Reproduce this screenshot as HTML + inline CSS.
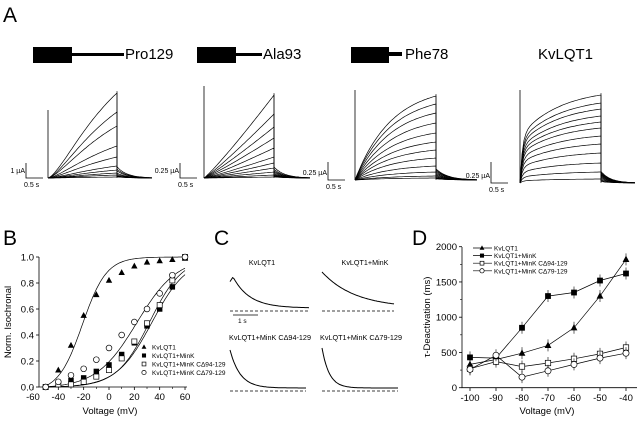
<!DOCTYPE html>
<html><head><meta charset="utf-8"><style>
body{margin:0;background:#fff;}
svg{display:block;font-family:"Liberation Sans",Arial,sans-serif;}
</style></head><body>
<svg id="fig" width="640" height="422" viewBox="0 0 640 422" xmlns="http://www.w3.org/2000/svg">
<g id="A">
<text x="3" y="22" font-size="21">A</text>
<rect x="33" y="47" width="39" height="16" fill="#000"/>
<rect x="72" y="53" width="52" height="3" fill="#000"/>
<text x="125" y="59" font-size="15">Pro129</text>
<rect x="197" y="47" width="39" height="16" fill="#000"/>
<rect x="236" y="53" width="26" height="3" fill="#000"/>
<text x="263" y="59" font-size="15">Ala93</text>
<rect x="351" y="47" width="38" height="16" fill="#000"/>
<rect x="389" y="52" width="13" height="4" fill="#000"/>
<text x="405" y="59" font-size="15">Phe78</text>
<text x="538" y="59" font-size="15">KvLQT1</text>
</g>
<g id="traces"></g>
<g id="B">
<text x="3" y="245" font-size="21">B</text>
</g>
<g id="C">
<text x="214" y="245" font-size="21">C</text>
</g>
<g id="D">
<text x="412" y="245" font-size="21">D</text>
</g>
</svg>
<script>
// ---- Panel A data (relative final current amplitudes, px-equivalents) ----
const proAmps=[85,66,52,32,21,12,8,5,3,1];
const alaAmps=[83,64,51,40,30,21,15,10,6,3,1];
const pheAmps=[84,76,67,57,47,38,30,22,14,8,4,2];
const kvAmps=[88,80,74,67,61,55,47,39,30,20,11,4];
// ---- Panel B data ----
const bVolt=[-50,-40,-30,-20,-10,0,10,20,30,40,50,60];
const bKv=[0.0,0.13,0.32,0.55,0.71,0.82,0.88,0.93,0.96,0.97,0.98,0.99];
const bMink=[0.0,0.03,0.05,0.07,0.12,0.17,0.25,0.34,0.47,0.60,0.77,null];
const bC94=[0.0,0.02,0.02,0.04,0.08,0.13,0.22,0.35,0.49,0.63,0.82,1.0];
const bC79=[0.0,0.04,0.09,0.14,0.21,0.30,0.40,0.50,0.60,0.72,0.86,1.0];
const bXTicks=[-60,-40,-20,0,20,40,60];
const bYTicks=[0.0,0.2,0.4,0.6,0.8,1.0];
// ---- Panel D data ----
const dVolt=[-100,-90,-80,-70,-60,-50,-40];
const dKv=[330,400,490,600,850,1300,1820];
const dMink=[430,420,850,1300,1350,1520,1620];
const dC94=[270,370,300,350,410,480,570];
const dC79=[260,460,150,240,330,420,490];
const dXTicks=[-100,-90,-80,-70,-60,-50,-40];
const dYTicks=[0,500,1000,1500,2000];
// ---- Panel C data (decay taus, s) ----
const cTaus=[0.55,1.2,0.35,0.25];

const NS="http://www.w3.org/2000/svg";
function mk(tag,parent,attrs){const e=document.createElementNS(NS,tag);for(const k in attrs)e.setAttribute(k,attrs[k]);parent.appendChild(e);return e;}
function txt(parent,x,y,s,size,anchor){const t=mk('text',parent,{x:x,y:y,'font-size':size,'text-anchor':anchor||'start'});t.textContent=s;return t;}

// ---- Panel A traces ----
const TR=document.getElementById('traces');
const shapes={
 pro:t=>{const f=u=>Math.pow(1-Math.exp(-u/0.8),1.5);return f(t)/f(1);},
 ala:t=>Math.pow(t,1.1),
 phe:t=>(1-Math.exp(-t/0.45))/(1-Math.exp(-1/0.45)),
 kv:t=>(0.5*(1-Math.exp(-t/0.03))+0.5*(1-Math.exp(-t/0.5)))/(0.5*(1-Math.exp(-1/0.03))+0.5*(1-Math.exp(-1/0.5)))
};
const panelsA=[
 {name:'pro129',amps:proAmps,shape:shapes.pro,x0:48,x1:117,x2:152,base:178,top:110,tail:0.12,sb:{x:26,h:15,lab:'1 µA'}},
 {name:'ala93',amps:alaAmps,shape:shapes.ala,x0:204,x1:274,x2:310,base:178,top:86,tail:0.12,sb:{x:180,h:15,lab:'0.25 µA'}},
 {name:'phe78',amps:pheAmps,shape:shapes.phe,x0:355,x1:436,x2:477,base:180,top:90,tail:0.12,sb:{x:328,h:18,lab:'0.25 µA'}},
 {name:'kvlqt1',amps:kvAmps,shape:shapes.kv,x0:520,x1:601,x2:635,base:183,top:90,tail:0.12,sb:{x:491,h:21,lab:'0.25 µA'}}
];
panelsA.forEach(p=>{
 const g=mk('g',TR,{});
 
 
 mk('line',g,{x1:p.x0,y1:p.top,x2:p.x0,y2:p.base,stroke:'#000','stroke-width':0.8});
 p.amps.forEach(a=>{
  let d='M'+p.x0+','+p.base;
  for(let i=1;i<=40;i++){const t=i/40;d+=' L'+(p.x0+t*(p.x1-p.x0)).toFixed(1)+','+(p.base-a*p.shape(t)).toFixed(1);}
  const ta=a*p.tail+1;
  d+=' L'+p.x1+','+(p.base-ta).toFixed(1);
  for(let i=1;i<=30;i++){const t=i/30;d+=' L'+(p.x1+t*(p.x2-p.x1)).toFixed(1)+','+(p.base-ta*Math.exp(-t*3.5)).toFixed(1);}
  const path=mk('path',g,{d:d,fill:'none',stroke:'#000','stroke-width':0.7});
  
  
 });
 mk('line',g,{x1:p.x1,y1:p.base-p.amps[0]-2,x2:p.x1,y2:p.base,stroke:'#000','stroke-width':0.6});
 const s=mk('path',g,{d:'M'+p.sb.x+','+(p.base-p.sb.h)+' V'+p.base+' H'+(p.sb.x+17),fill:'none',stroke:'#000','stroke-width':0.8});
 
 
 txt(g,p.sb.x-1,p.base-5,p.sb.lab,7,'end');
 txt(g,p.sb.x-2,p.base+9,'0.5 s',7,'start');
});

// ---- Panel B ----
const B=document.getElementById('B');
const bx=v=>109+v*1.267, by=v=>387-v*130;
mk('path',B,{d:'M39,257 V387 H187',fill:'none',stroke:'#000','stroke-width':0.8});
bXTicks.forEach(v=>{mk('line',B,{x1:bx(v),y1:387,x2:bx(v),y2:390,stroke:'#000','stroke-width':0.8});txt(B,bx(v),400,String(v),9.5,'middle');});
[-50,-30,-10,10,30,50].forEach(v=>mk('line',B,{x1:bx(v),y1:387,x2:bx(v),y2:389,stroke:'#000','stroke-width':0.6}));
bYTicks.forEach(v=>{mk('line',B,{x1:36,y1:by(v),x2:39,y2:by(v),stroke:'#000','stroke-width':0.8});txt(B,34,by(v)+3.5,v.toFixed(1),9.5,'end');});
const byl=txt(B,0,0,'Norm. Isochronal',9.5,'middle');byl.setAttribute('transform','translate(11,322) rotate(-90)');

const bxl=txt(B,110,414,'Voltage (mV)',9.5,'middle');

const fits=[[-21,9.5],[34,14],[32,13],[22,16]];
fits.forEach(f=>{let d='';const b0=1/(1+Math.exp((f[0]+52)/f[1]));for(let v=-52;v<=60;v+=1){let y=1/(1+Math.exp((f[0]-v)/f[1]));y=(y-b0)/(1-b0);d+=(d?' L':'M')+bx(v).toFixed(1)+','+by(y).toFixed(1);}
 const pth=mk('path',B,{d:d,fill:'none',stroke:'#000','stroke-width':0.7});
 });
function marker(g,type,x,y,r){
 let e;
 if(type==='tri')e=mk('path',g,{d:`M${x},${y-r*1.1} L${x+r},${y+r*0.75} L${x-r},${y+r*0.75}Z`,fill:'#000'});
 else if(type==='sq')e=mk('rect',g,{x:x-r*0.85,y:y-r*0.85,width:r*1.7,height:r*1.7,fill:'#000'});
 else if(type==='osq')e=mk('rect',g,{x:x-r*0.8,y:y-r*0.8,width:r*1.6,height:r*1.6,fill:'#fff',stroke:'#000','stroke-width':0.7});
 else e=mk('circle',g,{cx:x,cy:y,r:r*0.9,fill:'#fff',stroke:'#000','stroke-width':0.7});
 return e;
}
const bSeries=[['kvlqt1',bKv,'tri'],['kvlqt1-mink',bMink,'sq'],['c94',bC94,'osq'],['c79',bC79,'circ']];
bSeries.forEach(s=>{s[1].forEach((v,i)=>{if(v===null)return;const m=marker(B,s[2],bx(bVolt[i]),by(v),3.2);
 });});
const bLeg=['KvLQT1','KvLQT1+MinK','KvLQT1+MinK CΔ94-129','KvLQT1+MinK CΔ79-129'];
bLeg.forEach((l,i)=>{const y=347+i*8.5;marker(B,bSeries[i][2],144,y,2.4);const t=txt(B,152,y+2.5,l,6.5);
 });

// ---- Panel C ----
const C=document.getElementById('C');
const cPanels=[
 {lab:'KvLQT1',cx:262,ly:265,x0:230,x1:309,y0:277,yb:311,peak:true,w:0},
 {lab:'KvLQT1+MinK',cx:365,ly:265,x0:322,x1:394,y0:272,yb:311,peak:false,w:0},
 {lab:'KvLQT1+MinK CΔ94-129',cx:270,ly:340,x0:230,x1:306,y0:350,yb:391,peak:false,w:82},
 {lab:'KvLQT1+MinK CΔ79-129',cx:361,ly:340,x0:322,x1:398,y0:348,yb:391,peak:false,w:82}
];
cPanels.forEach((p,k)=>{
 const t=txt(C,p.cx,p.ly,p.lab,7.2,'middle');
 if(p.w){t.setAttribute('textLength',p.w);t.setAttribute('lengthAdjust','spacingAndGlyphs');}
 mk('line',C,{x1:p.x0,y1:p.yb,x2:p.x1,y2:p.yb,stroke:'#000','stroke-width':0.7,'stroke-dasharray':'3,2'});
 const A=p.yb-p.y0;let d='';
 for(let i=0;i<=60;i++){const t=i/60*2.6;let y;
  if(p.peak){const tt=Math.max(t-0.1,0);y=A*Math.exp(-tt/cTaus[k])*(t<0.1?(0.85+1.5*t):1);}
  else y=A*Math.exp(-t/cTaus[k]);
  const yy=p.yb-3-(y*(A-3)/A);
  d+=(d?' L':'M')+(p.x0+i/60*(p.x1-p.x0)).toFixed(1)+','+yy.toFixed(1);}
 const pth=mk('path',C,{d:d,fill:'none',stroke:'#000','stroke-width':1});
 
});
mk('line',C,{x1:233,y1:315,x2:258,y2:315,stroke:'#000','stroke-width':0.8});
txt(C,238,323,'1 s',6.5);

// ---- Panel D ----
const D=document.getElementById('D');
const dx=v=>470+(v+100)*2.6, dy=v=>387.7-v*0.0705;
mk('path',D,{d:'M462,247 V387.7 H637',fill:'none',stroke:'#000','stroke-width':0.8});
dXTicks.forEach(v=>{mk('line',D,{x1:dx(v),y1:387.7,x2:dx(v),y2:391,stroke:'#000','stroke-width':0.8});txt(D,dx(v),401,String(v),9.5,'middle');});
dYTicks.forEach(v=>{mk('line',D,{x1:459,y1:dy(v),x2:462,y2:dy(v),stroke:'#000','stroke-width':0.8});txt(D,457,dy(v)+3.5,String(v),9.5,'end');});
[250,750,1250,1750].forEach(v=>mk('line',D,{x1:460,y1:dy(v),x2:462,y2:dy(v),stroke:'#000','stroke-width':0.6}));
const dyl=txt(D,0,0,'τ-Deactivation (ms)',9.5,'middle');dyl.setAttribute('transform','translate(430,317) rotate(-90)');

const dxl=txt(D,547,414,'Voltage (mV)',9.5,'middle');

const dSeries=[['kvlqt1',dKv,'tri'],['kvlqt1-mink',dMink,'sq'],['c94',dC94,'osq'],['c79',dC79,'circ']];
dSeries.forEach(s=>{
 const d=s[1].map((v,i)=>(i?'L':'M')+dx(dVolt[i]).toFixed(1)+','+dy(v).toFixed(1)).join(' ');
 const l=mk('path',D,{d:d,fill:'none',stroke:'#000','stroke-width':0.7});
 
 s[1].forEach((v,i)=>{mk('line',D,{x1:dx(dVolt[i]),y1:dy(v)-6,x2:dx(dVolt[i]),y2:dy(v)+6,stroke:'#000','stroke-width':0.6});
  const m=marker(D,s[2],dx(dVolt[i]),dy(v),3.4);});
});
bLeg.forEach((l,i)=>{const y=248+i*7.6;mk('line',D,{x1:473,y1:y,x2:492,y2:y,stroke:'#000','stroke-width':0.7});marker(D,dSeries[i][2],482,y,2.4);
 const t=txt(D,494,y+2.5,l,6.5);});
</script>
</body></html>
